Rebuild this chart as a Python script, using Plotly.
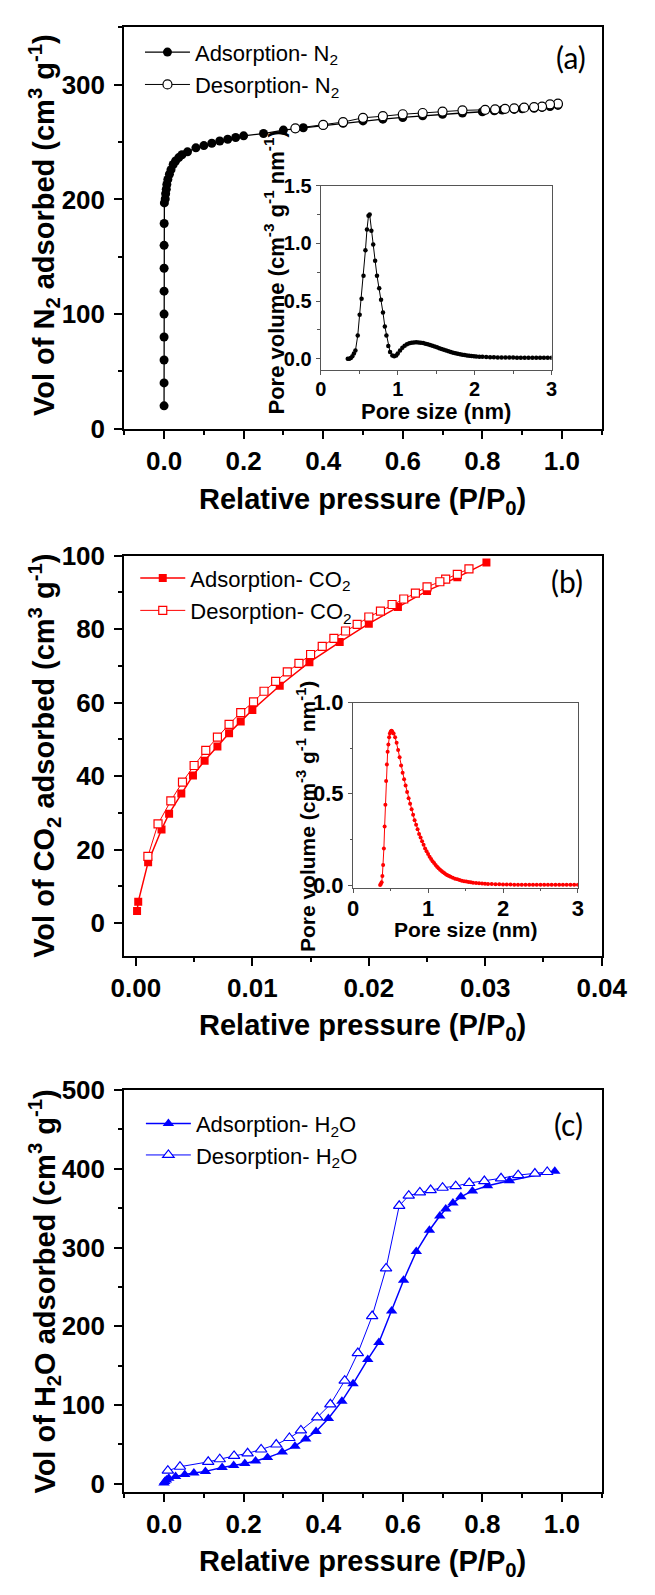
import plotly.graph_objects as go

# ---------------- data ----------------
# (a) N2 isotherm
n2_ads_p = [0.00002, 0.00003, 0.00004, 0.00005, 0.00006, 0.00008, 0.0001, 0.00015, 0.0003, 0.0008,
            0.003, 0.004, 0.0056, 0.007, 0.0095, 0.0135, 0.0175, 0.023, 0.029, 0.037, 0.045, 0.059,
            0.08, 0.10, 0.12, 0.14, 0.16, 0.18, 0.20, 0.25, 0.30, 0.35, 0.40, 0.45, 0.50, 0.55, 0.60,
            0.65, 0.70, 0.75, 0.80, 0.83, 0.85, 0.88, 0.90, 0.93, 0.95, 0.97, 0.99]
n2_ads_v = [20, 40, 60, 80, 100, 120, 140, 160, 179, 197,
            200.5, 205, 209, 213, 217.5, 222, 226, 230.5, 233.5, 236.5, 239, 241.5,
            245, 247, 249, 251, 252.5, 254, 255.5, 257.5, 260.5, 262.5, 264.5, 266.5, 268.5, 270, 271.5,
            273, 274.3, 275.4, 276.5, 277.3, 278, 278.5, 279, 279.5, 280.3, 281, 282]
n2_des_p = [0.99, 0.97, 0.95, 0.93, 0.905, 0.88, 0.857, 0.832, 0.807, 0.75, 0.70, 0.65, 0.60, 0.55,
            0.50, 0.45, 0.40, 0.33]
n2_des_v = [283.5, 283, 281, 280.6, 280, 279.5, 279, 278.6, 278.2, 277.7, 276.6, 275.4, 274.3, 272.6,
            271.2, 267.5, 265, 262]

# (a) inset: pore size distribution
psd_a_x = [0.35, 0.37, 0.39, 0.41, 0.43, 0.45, 0.48, 0.505, 0.53, 0.555, 0.58, 0.60, 0.62, 0.635,
           0.657, 0.681, 0.706, 0.73, 0.759, 0.783, 0.808, 0.832, 0.853, 0.877, 0.90, 0.93, 0.954,
           0.98, 1.00, 1.03, 1.06, 1.09, 1.12, 1.15, 1.18, 1.21, 1.24, 1.27, 1.30, 1.33, 1.36, 1.39,
           1.42, 1.45, 1.48, 1.51, 1.54, 1.57, 1.60, 1.63, 1.66, 1.69, 1.72, 1.75, 1.78, 1.81, 1.84,
           1.87, 1.90, 1.93, 1.96, 1.99, 2.02, 2.06, 2.10, 2.15, 2.20, 2.25, 2.30, 2.35, 2.40, 2.45,
           2.50, 2.55, 2.60, 2.65, 2.70, 2.75, 2.80, 2.85, 2.90, 2.95, 3.00]
psd_a_v = [0.0, 0.0, 0.005, 0.02, 0.045, 0.07, 0.2, 0.38, 0.52, 0.72, 0.94, 1.12, 1.24, 1.25,
           1.11, 0.99, 0.85, 0.72, 0.61, 0.51, 0.40, 0.28, 0.2, 0.11, 0.057, 0.028, 0.02,
           0.028, 0.045, 0.07, 0.094, 0.112, 0.125, 0.133, 0.138, 0.141, 0.142, 0.141, 0.139, 0.135,
           0.13, 0.124, 0.118, 0.112, 0.105, 0.098, 0.091, 0.084, 0.077, 0.07, 0.064, 0.058, 0.052,
           0.047, 0.042, 0.038, 0.034, 0.031, 0.028, 0.025, 0.023, 0.021, 0.019, 0.017, 0.016, 0.014,
           0.013, 0.012, 0.011, 0.011, 0.01, 0.01, 0.01, 0.009, 0.009, 0.009, 0.009, 0.009, 0.009,
           0.009, 0.009, 0.009, 0.009]

# (b) CO2 isotherm
co2_ads_p = [0.0001, 0.0002, 0.00105, 0.0022, 0.00285, 0.0039, 0.0049, 0.0059, 0.0070, 0.0080,
             0.0090, 0.0100, 0.01235, 0.0149, 0.0175, 0.0200, 0.0225, 0.0250, 0.0276, 0.0301]
co2_ads_v = [3.3, 5.8, 16.6, 25.5, 29.8, 35.3, 40.2, 44.2, 48.1, 51.7,
             54.9, 58.0, 64.6, 71.0, 76.5, 81.5, 86.0, 90.4, 94.1, 98.1]
co2_des_p = [0.0286, 0.0276, 0.0266, 0.0261, 0.025, 0.024, 0.023, 0.022, 0.021, 0.020, 0.019, 0.018,
             0.017, 0.016, 0.015, 0.014, 0.013, 0.012, 0.011, 0.0101, 0.009, 0.008, 0.007, 0.006,
             0.005, 0.004, 0.003, 0.0019, 0.00103]
co2_des_v = [96.4, 94.9, 93.6, 92.9, 91.5, 89.8, 88.2, 86.7, 84.9, 83.3, 81.3, 79.5,
             77.5, 75.3, 73.1, 70.7, 68.4, 65.8, 63.1, 60.2, 57.3, 54.1, 50.6, 47.0,
             42.9, 38.4, 33.3, 27.0, 18.2]

# (b) inset: pore size distribution
psd_b_x = [0.36, 0.37, 0.38, 0.39, 0.40, 0.41, 0.42, 0.43, 0.44, 0.45, 0.46, 0.47, 0.48, 0.49, 0.50,
           0.51, 0.52, 0.54, 0.56, 0.58, 0.60, 0.62, 0.64, 0.66, 0.68, 0.70, 0.72, 0.74, 0.76, 0.78,
           0.80, 0.82, 0.84, 0.86, 0.88, 0.90, 0.92, 0.94, 0.96, 0.98, 1.00, 1.02, 1.04, 1.06, 1.08,
           1.10, 1.12, 1.14, 1.16, 1.18, 1.20, 1.22, 1.24, 1.26, 1.28, 1.30, 1.33, 1.36, 1.39, 1.42,
           1.45, 1.48, 1.51, 1.54, 1.57, 1.60, 1.64, 1.68, 1.72, 1.76, 1.80, 1.85, 1.90, 1.95, 2.00,
           2.05, 2.10, 2.15, 2.20, 2.25, 2.30, 2.35, 2.40, 2.45, 2.50, 2.55, 2.60, 2.65, 2.70, 2.75,
           2.80, 2.85, 2.90, 2.95, 3.00]
psd_b_v = [0.0, 0.005, 0.015, 0.05, 0.11, 0.2, 0.32, 0.44, 0.57, 0.66, 0.73, 0.77, 0.81, 0.83, 0.84,
           0.845, 0.842, 0.83, 0.81, 0.78, 0.74, 0.70, 0.655, 0.615, 0.58, 0.545, 0.51, 0.475, 0.445,
           0.415, 0.385, 0.355, 0.33, 0.305, 0.28, 0.26, 0.24, 0.22, 0.2, 0.185, 0.17, 0.155, 0.142,
           0.13, 0.12, 0.11, 0.1, 0.092, 0.084, 0.077, 0.07, 0.064, 0.058, 0.053, 0.049, 0.045, 0.04,
           0.035, 0.031, 0.027, 0.024, 0.021, 0.019, 0.017, 0.015, 0.013, 0.011, 0.01, 0.008, 0.007,
           0.006, 0.005, 0.004, 0.004, 0.003, 0.003, 0.003, 0.002, 0.002, 0.002, 0.002, 0.002, 0.001,
           0.001, 0.001, 0.001, 0.001, 0.001, 0.001, 0.001, 0.001, 0.001, 0.001, 0.001, 0.001]

# (c) H2O isotherm
h2o_ads_p = [0.0, 0.002, 0.006, 0.012, 0.029, 0.052, 0.075, 0.104, 0.146, 0.175, 0.203, 0.23, 0.26,
             0.297, 0.329, 0.356, 0.382, 0.413, 0.447, 0.475, 0.512, 0.54, 0.572, 0.602, 0.634, 0.667,
             0.693, 0.708, 0.726, 0.746, 0.775, 0.813, 0.868, 0.982]
h2o_ads_v = [1, 3, 5, 7, 9.2, 11.7, 13.7, 15.8, 20.8, 23.3, 25.8, 29.1, 33.3,
             40.3, 47.8, 57, 66.5, 83, 105, 127, 158, 179.5, 219.5, 258.6, 295, 322,
             340, 349, 356.5, 364.5, 372, 378.5, 385, 397]
h2o_des_p = [0.963, 0.932, 0.89, 0.847, 0.805, 0.767, 0.733, 0.70, 0.67, 0.643, 0.615, 0.591, 0.558,
             0.523, 0.487, 0.454, 0.418, 0.385, 0.344, 0.315, 0.282, 0.244, 0.21, 0.176, 0.14, 0.111,
             0.04, 0.0095]
h2o_des_v = [396, 394, 392, 388, 384.5, 382, 378, 376, 373, 370, 366, 353, 273.6,
             213, 166, 131, 101, 84.4, 67.8, 58.2, 49.9, 43.6, 38.7, 35.4, 31.2, 27.9,
             21.7, 16.7]

# ---------------- layout helpers ----------------
W, H = 655, 1595
SANS = "Liberation Sans, Arial, sans-serif"


def px(x):
    return x / W


def py(y):
    return 1 - y / H


def main_axis(rng, dtick, mdtick, fmt, dom, anchor, is_x):
    return dict(range=rng, domain=dom, anchor=anchor, showline=True, linecolor="black",
                linewidth=2, mirror=True, ticks="outside", ticklen=8, tickwidth=2,
                tickcolor="black", tick0=0, dtick=dtick, tickformat=fmt,
                minor=dict(tick0=0, dtick=mdtick, ticks="outside", ticklen=4, tickwidth=2,
                           tickcolor="black"),
                showgrid=False, zeroline=False,
                ticklabelstandoff=0 if is_x else 4,
                tickfont=dict(family=SANS, size=26, color="black", weight="bold"))


def inset_axis(rng, dtick, mdtick, fmt, dom, anchor, size, standoff):
    return dict(range=rng, domain=dom, anchor=anchor, showline=True, linecolor="#555555",
                linewidth=1.3, mirror=True, ticks="outside", ticklen=4, tickwidth=1.3,
                tickcolor="#555555", tick0=0, dtick=dtick, tickformat=fmt,
                minor=dict(tick0=0, dtick=mdtick, ticks="outside", ticklen=2.5, tickwidth=1.2,
                           tickcolor="#555555"),
                showgrid=False, zeroline=False, ticklabelstandoff=standoff,
                tickfont=dict(family=SANS, size=size, color="black", weight="bold"))


fig = go.Figure()

# (a)
fig.add_trace(go.Scatter(x=n2_ads_p, y=n2_ads_v, mode="lines+markers", name="Adsorption- N<sub>2</sub>",
                         line=dict(color="black", width=1.3),
                         marker=dict(symbol="circle", size=9, color="black"),
                         xaxis="x", yaxis="y", legend="legend"))
fig.add_trace(go.Scatter(x=n2_des_p, y=n2_des_v, mode="lines+markers", name="Desorption- N<sub>2</sub>",
                         line=dict(color="black", width=1),
                         marker=dict(symbol="circle", size=9, color="white",
                                     line=dict(color="black", width=1.2)),
                         xaxis="x", yaxis="y", legend="legend2"))
fig.add_trace(go.Scatter(x=psd_a_x, y=psd_a_v, mode="lines+markers", showlegend=False,
                         line=dict(color="black", width=1),
                         marker=dict(symbol="circle", size=4.5, color="black"),
                         xaxis="x2", yaxis="y2"))

# (b)
fig.add_trace(go.Scatter(x=co2_ads_p, y=co2_ads_v, mode="lines+markers", name="Adsorption- CO<sub>2</sub>",
                         line=dict(color="#FF0000", width=1.5),
                         marker=dict(symbol="square", size=8, color="#FF0000"),
                         xaxis="x3", yaxis="y3", legend="legend3"))
fig.add_trace(go.Scatter(x=co2_des_p, y=co2_des_v, mode="lines+markers", name="Desorption- CO<sub>2</sub>",
                         line=dict(color="#FF0000", width=1),
                         marker=dict(symbol="square", size=8, color="white",
                                     line=dict(color="#FF0000", width=1.2)),
                         xaxis="x3", yaxis="y3", legend="legend4"))
fig.add_trace(go.Scatter(x=psd_b_x, y=psd_b_v, mode="lines+markers", showlegend=False,
                         line=dict(color="#FF0000", width=1),
                         marker=dict(symbol="circle", size=4, color="#FF0000"),
                         xaxis="x4", yaxis="y4"))

# (c)
fig.add_trace(go.Scatter(x=h2o_ads_p, y=h2o_ads_v, mode="lines+markers", name="Adsorption- H<sub>2</sub>O",
                         line=dict(color="#0000FF", width=1.5),
                         marker=dict(symbol="triangle-up", size=10, color="#0000FF"),
                         xaxis="x5", yaxis="y5", legend="legend5"))
fig.add_trace(go.Scatter(x=h2o_des_p, y=h2o_des_v, mode="lines+markers", name="Desorption- H<sub>2</sub>O",
                         line=dict(color="#0000FF", width=1),
                         marker=dict(symbol="triangle-up", size=10, color="white",
                                     line=dict(color="#0000FF", width=1.2)),
                         xaxis="x5", yaxis="y5", legend="legend6"))

XL, XR = 118.3, 626
layout = dict(
    width=W, height=H, autosize=False,
    margin=dict(l=0, r=0, t=0, b=0, pad=0),
    paper_bgcolor="white", plot_bgcolor="rgba(0,0,0,0)",
    xaxis=main_axis([-0.1, 1.1], 0.2, 0.1, ".1f", [px(XL), px(XR)], "y", True),
    yaxis=main_axis([0, 350], 100, 50, "d", [py(421.7), py(12.7)], "x", False),
    xaxis2=inset_axis([0, 3], 1, 0.5, "d", [px(327.3), px(572.7)], "y2", 20, -3),
    yaxis2=inset_axis([-0.1, 1.5], 0.5, 0.25, ".1f", [py(362), py(174)], "x2", 20, 0),
    xaxis3=main_axis([-0.001, 0.04], 0.01, 0.005, ".2f", [px(XL), px(XR)], "y3", True),
    yaxis3=main_axis([-9, 100], 20, 10, "d", [py(959.3), py(551)], "x3", False),
    xaxis4=inset_axis([0, 3], 1, 0.5, "d", [px(361.7), px(600.7)], "y4", 22, -3),
    yaxis4=inset_axis([-0.014, 1.0], 0.5, 0.25, ".1f", [py(889.3), py(700.7)], "x4", 22, 0),
    xaxis5=main_axis([-0.1, 1.1], 0.2, 0.1, ".1f", [px(XL), px(XR)], "y5", True),
    yaxis5=main_axis([-10, 500], 100, 50, "d", [py(1505), py(1095.7)], "x5", False),
)

legend_style = dict(xanchor="left", yanchor="middle", bgcolor="rgba(0,0,0,0)", borderwidth=0,
                    font=dict(family=SANS, size=22, color="black"), itemwidth=45)
layout["legend"] = dict(x=px(135), y=py(38), **legend_style)
layout["legend2"] = dict(x=px(135), y=py(71), **legend_style)
layout["legend3"] = dict(x=px(130), y=py(574), **legend_style)
layout["legend4"] = dict(x=px(130), y=py(607), **legend_style)
layout["legend5"] = dict(x=px(136), y=py(1130), **legend_style)
layout["legend6"] = dict(x=px(136), y=py(1162), **legend_style)
fig.update_layout(**layout)

ann = []
bold = dict(family=SANS, color="black", weight="bold")


def add_text(text, x, y, size, angle=0, font=None):
    f = dict(bold) if font is None else dict(font)
    f["size"] = size
    ann.append(dict(text=text, x=px(x), y=py(y), xref="paper", yref="paper",
                    xanchor="center", yanchor="middle", showarrow=False,
                    textangle=angle, font=f))


ytitle = " adsorbed (cm<sup>3</sup> g<sup>-1</sup>)"
add_text("Vol of N<sub>2</sub>" + ytitle, 33, 214, 29, -90)
add_text("Vol of CO<sub>2</sub>" + ytitle, 33, 755, 29, -90)
add_text("Vol of H<sub>2</sub>O" + ytitle, 33, 1301, 29, -90)
xtitle = "Relative pressure (P/P<sub>0</sub>)"
add_text(xtitle, 372, 495, 29)
add_text(xtitle, 372, 1031, 29)
add_text(xtitle, 372, 1578, 29)

ptitle = "Pore volume (cm<sup>-3</sup> g<sup>-1</sup> nm<sup>-1</sup>)"
add_text(ptitle, 278, 262, 22, -90)
add_text("Pore size (nm)", 450, 404, 22)
add_text(ptitle, 311, 817, 21, -90)
add_text("Pore size (nm)", 482, 932, 21)

lab_font = dict(family="Lato, Carlito, sans-serif", color="black")
add_text("(a)", 593, 43, 30, font=lab_font)
add_text("(b)", 589, 577, 30, font=lab_font)
add_text("(c)", 591, 1130, 30, font=lab_font)

fig.update_layout(annotations=ann)
fig.write_html("out.html", config={"displayModeBar": False},
               post_script="document.body.style.margin='0px';")
